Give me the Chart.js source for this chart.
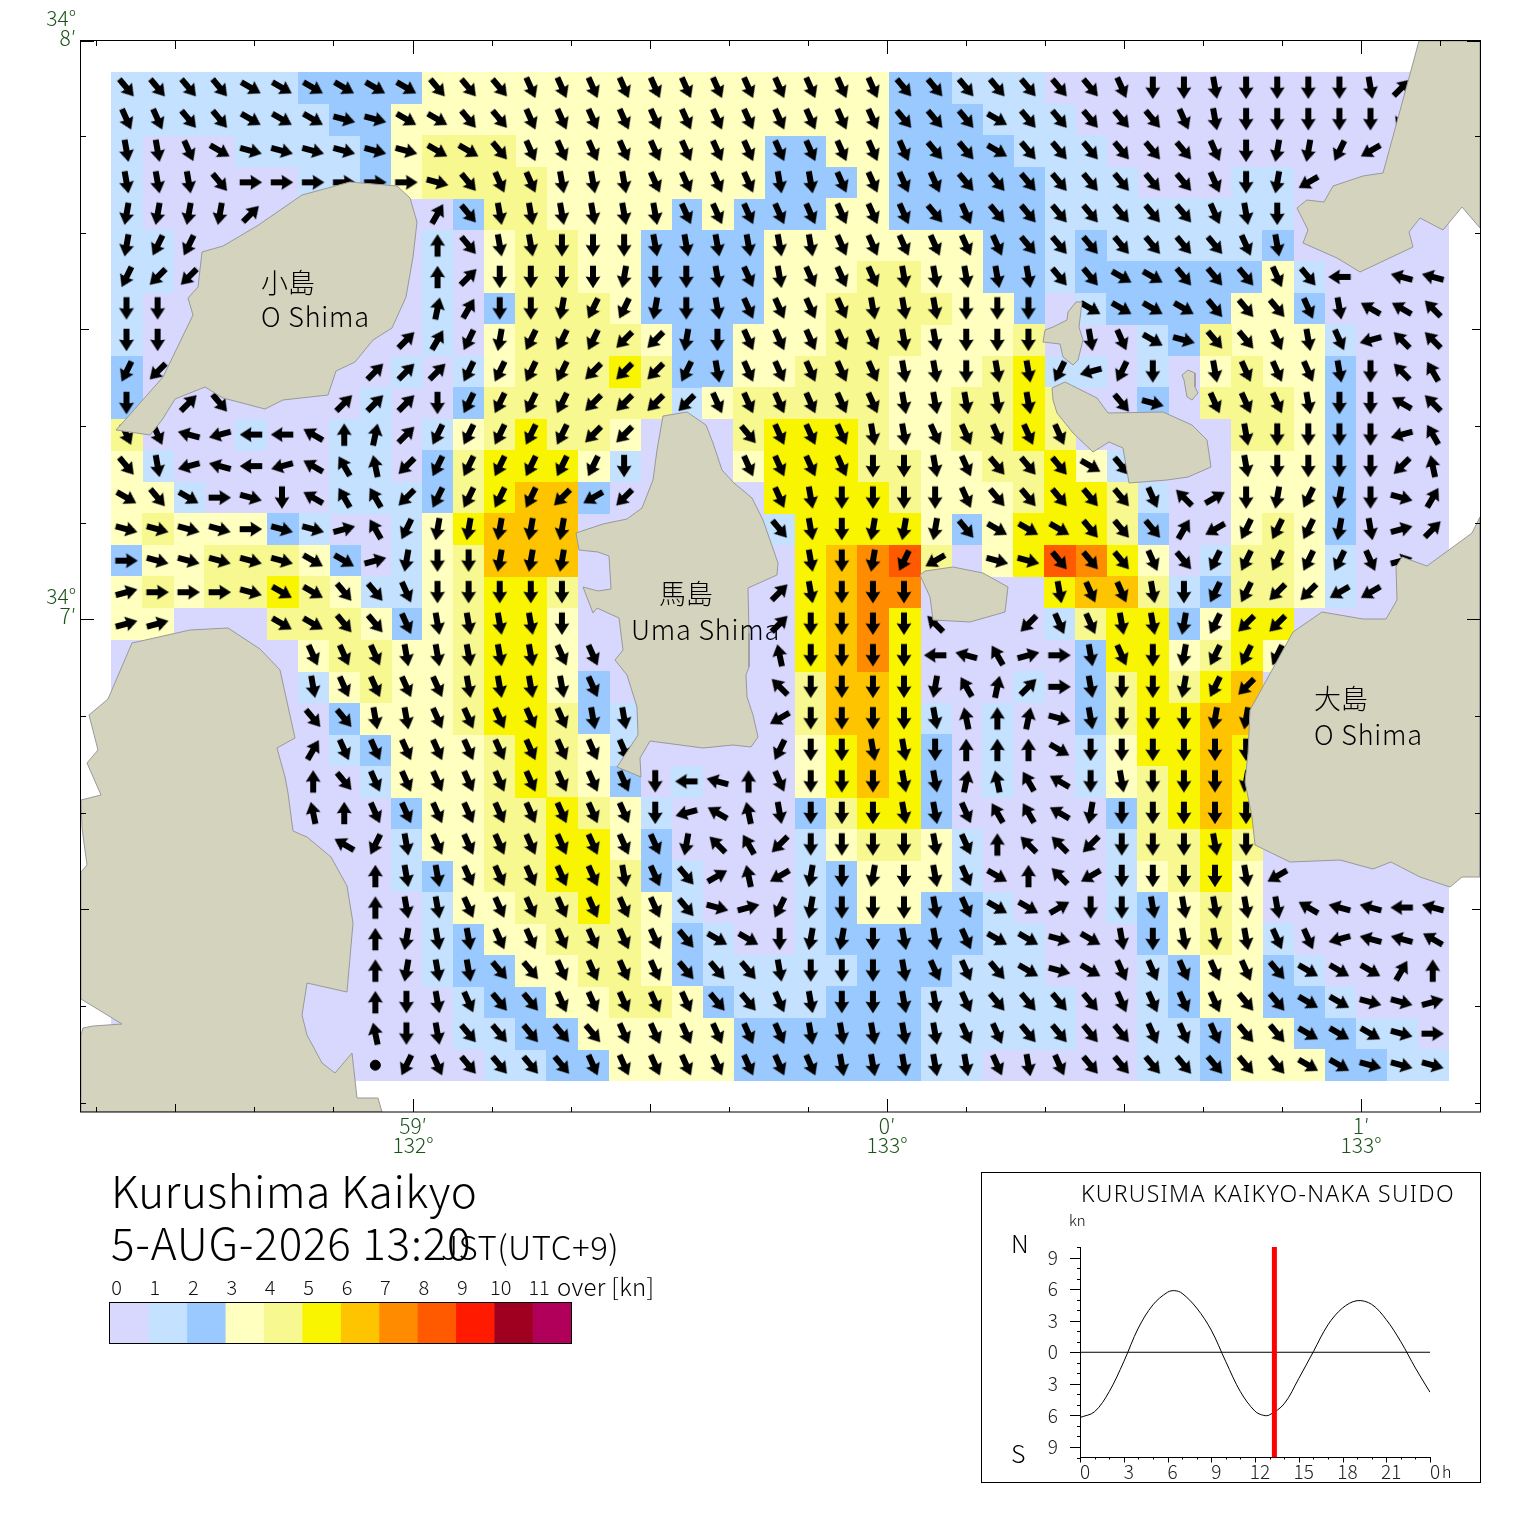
<!DOCTYPE html>
<html>
<head>
<meta charset="utf-8">
<title>Kurushima Kaikyo</title>
<script src="https://cdn.jsdelivr.net/npm/chart.js@4"></script>
<style>
  html, body { margin: 0; padding: 0; background: #fff; }
  canvas { position: absolute; }
</style>
</head>
<body>
<canvas id="mapChart" width="1520" height="1533" style="left:0;top:0"></canvas>
<canvas id="scaleChart" width="480" height="80" style="left:100px;top:1270px"></canvas>
<canvas id="tideChart" width="500" height="317" style="left:981px;top:1172px"></canvas>
<script>
// speed class of each grid cell, one string per row, north to south (spaces only group the digits)
const speedRows = [
  '111111 2222 333333333333333 22 111 0000000000000',
  '1111111 22 3333333333333333 222 111 000000000000',
  '1 000 1111 2 3 444 3 3333333 22 33 2222 111 00000000000',
  '1 00000 11 2 3 4444 3333333 222 3 22222 111 000 11 00000',
  '1 0000000000 2 44 3333 2 3 222 33 22222 11111111 00000',
  '11 00000000 1 0 3 4 4 33 2222 3333333 22 1 2 11111 2 00000',
  '11 00000000 1 0 3 44 33 2222 333 44 33 22 1 222222 3 1 0000',
  '1 000000000 1 0 2 444 3 2222 33 4444 33 2 0 1 2222 33 2 0000',
  '1 000000000 1 0 3 4444 3 22 333 444 333 4 000 1 2 4 333 1 000',
  '2 00000000 1 0 1 3 444 5 4 22 33 444 333 4 5 11 0 1 0 3 4 33 2 000',
  '2 000000 0 1 00 2 44 4444 1 3 44444 33 44 5 4 00 2 0 444 3 2 000',
  '4 000 1 00 11 0 1 3 4 5 44 3 000 4 555 4 33 44 5 4 00000 44 3 2 000',
  '3 1 00000 11 0 2 4 555 3 1 000 3 555 44 33 4 4 5 3 1 000 333 2 000',
  '33 1 0000 111 2 4 5 66 2 0 000 0 5555 4 333 4 55 4 1 00 333 2 000',
  '3 4 333 2 1 00 1 3 5 666 000000 1 5555 3 2 3 555 4 2 00 3 4 3 2 000',
  '2 33 444 3 2 0 1 3 4 666 0000000 5 6 7 8 4 0 3 5 8 7 5 3 0 1 44 3 1 000',
  '3 4 3 44 5 4 3 11 3 4 55 4 0000000 5 6 7 7 0000 5 6 6 4 1 2 44 3 1 000',
  '33 000 444 3 2 3 4 55 3 0000000 5 6 7 5 0000 1 4 55 2 3 55 00000',
  '000000 3 44 33 4 55 3 0 00000 0 5 6 7 5 0000 0 2 55 3 4 5 3 00000',
  '000000 1 3 4 33 4 55 3 2 00000 0 4 6 6 5 000 1 0 2 4 5 4 5 6 000000',
  '0000000 2 3 33 4 55 4 2 1 0000 0 4 6 6 5 1 0 1 0 0 2 4 55 6 6 000000',
  '0000000 1 2 333 4 5 4 3 1 0000 0 3 5 6 5 2 0 1 00 1 3 55 6 5 000000',
  '00000000 1 333 4 5 4 3 2 0 1 000 3 5 6 5 2 0 1 0 0 1 3 4 5 6 5 000000',
  '000000000 2 33 44 5 4 3 1 0000 2 4 55 2 00000 2 4 5 6 5 000000',
  '000000000 1 33 44 55 3 2 0000 1 3 44 3 1 0000 1 4 4 5 4 000000',
  '000000000 1 2 3 44 55 4 2 1 000 1 2 333 1 0000 1 3 4 5 3 000000',
  '0000000000 1 33 4 4 5 4 3 1 000 1 2 33 22 1 000 1 2 3 4 3 000000',
  '0000000000 1 2 33 444 3 2 1 00 1 22222 1 1 000 2 3 4 3 1 00000',
  '0000000000 1 22 3 3 44 3 2 11111 222 111 000 1 2 33 2 1 0000',
  '00000000000 1 22 33 44 3 2 111 222 11111 00 1 2 33 22 1 000',
  '00000000000 11 2 2 33333 222222 11111 00 11 2 33 22 11 0',
  '000000000000 11 22 3333 222222 11 00000 11 2 333 22 11'
];

// flow direction code of each cell (see dirHeadings), '.' no arrow, '*' slack
const dirRows = [
  'jjjjiiiiiijjj kkkkkkkkkkkk jjjj jjj k mm l mmmm l d .',
  'kkjjiiihhiijjk kkkkkkkkkkk jjj i jjj j j k l mmmmm o .',
  'llkihhhhhhiijk kkkkkkkkkkk k jj i jjjjjj k m n n o q ..',
  'llljgggggghjkk lllkkkk llkk kk jjjjjjjj k m n q ....',
  'nnnnd.....cjll llll kkkkkkkk j k jjjjjjj k l m .....',
  'noo.......ajll mmm llllll kkkkkk jjjjjjj k l .....',
  'opp.......admm mmnmml klkkk lllll jjiijjj kj s . tt',
  'mm........bcmm noonmlkkkklllmmm . iiii jjj k l uuv',
  'mm.......dcono oopp nmkkkkkllmmm . lkihjjklk rvv',
  'op......dddooo opppo l kkkkk ll m l l o r o m . l kkk l m v w',
  'm.dj...dddmooo opppp kkkkkk lllll .. j h . kkk l mm u v',
  'kktrssuabdoooo opp ... jkkk ll kkkkk ..... l mmmm r w',
  'jlrtsruwxpoooo oom ... kkkk mm l k jjj i j ... l mmmm p x',
  'ijighmuwwpoooo pqp .... k l mmmm k jjjjj k v e m n o n m h c',
  'hhhhghhfwonnnn n ...... j l m nnn j iii jjj c q ooo n l f d',
  'ghhhhhiifnmmnn n ....... l m n o q . hh jjj k j ooooo k f .',
  'fggghiijjkmmmm m ...... d l mmm .... l kk l m oo pp qq ..',
  'ff...iijjkllll m ...... d mmmm v .. p kk ll n o pp .....',
  '......kkklllll kk ..... x mmmm s t w f g l k m n ooo .....',
  '......lkkkklll lk ..... v mmmm n w b d g l mm n o p ......',
  '......jjllkkkk k ll .... q mmmm l x a b h l mmm nn ......',
  '......ckkkkkkk kkk .... o mm ll m aaa i mmmmmm ......',
  '......ajkkkkkk kkk m s t a k mmm ll b x w u m l mmm n ......',
  '......xakkkkkk kkk m r u x l mmm ll k ww u n mmmmm ......',
  '.......uolkkkk kkkk n v w p mmmm l k a vv p mmm l m ......',
  '........allkkk kk l k j e x q n m n m l k i a v q mmmm l q .....',
  '........allkkk kkkk j h f o n mmm l k ii e mm lllll u tt s t',
  '........anllkk kkkk j ii m nn m ll k ii h i l m lll kk r tt u',
  '........anlljj kkkk jjj l mmm l kk j i h i kkkkk j iii c a',
  '........amlkjj kkkkk jj k l mm ll k jjjj kkkk jj ii hh f',
  '........xmljjj jj kkkkkk lllll kk jjjj kkk jj iii h g',
  '........*okjjj j kkkkkkkk lllll k l k jjjjjjj ii hhh'
];

// heading in degrees for each direction code
const dirHeadings = { a: 0, b: 12, c: 30, d: 45, e: 60, f: 75, g: 90, h: 105, i: 120, j: 140, k: 156, l: 170,
                      m: 180, n: 190, o: 206, p: 225, q: 240, r: 255, s: 270, t: 285, u: 300, v: 315, w: 330, x: 348 };

const speedColors = ['#d8d8ff', '#c4e2ff', '#99c9ff', '#ffffc0', '#f8f890', '#f9f400',
                     '#ffc400', '#ff8c00', '#ff5a00', '#ff1a00', '#a00020', '#b0005a'];
const speedTicks = ['0', '1', '2', '3', '4', '5', '6', '7', '8', '9', '10', '11', ''];

// coast lines in map units (the map axes run 81..1480 and 41..1112)
const oShimaWest = [[350,182],[397,186],[410,198],[417,222],[413,257],[406,297],[392,328],[373,340],[355,362],[336,371],[328,395],[283,400],[265,409],[223,398],[205,387],[175,399],[162,420],[150,435],[116,430],[125,420],[163,377],[193,315],[188,298],[198,287],[202,252],[223,246],[257,226],[302,195],[350,182]];
const umaShima = [[663,416],[687,412],[706,425],[713,443],[722,470],[734,483],[752,498],[763,520],[778,563],[777,575],[748,588],[749,633],[749,667],[746,675],[747,697],[753,715],[758,737],[751,747],[733,745],[703,748],[650,741],[640,758],[641,777],[617,767],[638,735],[637,707],[627,675],[615,660],[623,650],[619,618],[597,608],[593,613],[583,587],[598,591],[611,589],[609,556],[598,552],[579,550],[576,533],[603,524],[627,519],[642,508],[653,480],[657,450],[663,416]];
const islet1 = [[920,575],[925,571],[953,567],[983,573],[1008,587],[1005,612],[970,622],[933,620],[930,597],[920,575]];
const shikokuSide = [[132,643],[190,630],[228,628],[260,649],[280,670],[295,738],[277,748],[285,777],[288,793],[293,831],[307,837],[331,857],[347,886],[353,923],[347,992],[307,983],[302,1015],[307,1035],[322,1063],[335,1073],[352,1053],[357,1098],[378,1098],[382,1112],[81,1112],[81,1035],[83,1028],[93,1026],[122,1024],[81,999],[81,872],[87,865],[82,828],[81,800],[101,795],[87,763],[98,750],[89,715],[108,699],[132,643]];
const northEastLand = [[1419,41],[1383,173],[1363,176],[1333,186],[1324,202],[1307,200],[1297,208],[1308,230],[1303,243],[1337,258],[1360,272],[1413,247],[1409,232],[1420,218],[1443,230],[1462,207],[1480,228],[1480,41],[1419,41]];
const islet2 = [[1076,302],[1082,302],[1079,327],[1083,340],[1078,360],[1073,365],[1063,357],[1060,344],[1043,342],[1045,330],[1053,327],[1067,320],[1068,312],[1076,302]];
const islet3 = [[1188,370],[1195,373],[1195,387],[1198,393],[1192,400],[1187,397],[1184,380],[1182,375],[1188,370]];
const islet4 = [[1052,388],[1065,382],[1097,398],[1108,413],[1163,412],[1192,425],[1207,440],[1211,467],[1188,477],[1167,480],[1129,483],[1123,448],[1109,442],[1093,452],[1073,433],[1057,413],[1053,400],[1052,388]];
const oShimaEast = [[1293,632],[1322,612],[1363,619],[1386,619],[1397,600],[1396,567],[1402,557],[1427,566],[1472,533],[1480,517],[1480,877],[1462,877],[1450,887],[1420,877],[1391,862],[1373,869],[1340,860],[1290,862],[1255,845],[1252,817],[1245,782],[1248,753],[1250,710],[1293,632]];
const coastLines = [oShimaWest, umaShima, islet1, shikokuSide, northEastLand, islet2, islet3, islet4, oShimaEast];

// axis ticks on the map frame
const xFineTicks = [96, 254, 333, 492, 571, 729, 808, 966, 1045, 1203, 1282, 1440];
const xHalfTicks = [175, 650, 1124];
const xMinuteTicks = [413, 887, 1361];
const xMinuteLabels = [['59′', '132°'], ['0′', '133°'], ['1′', '133°']];
const yFineTicks = [136, 233, 426, 523, 716, 813, 1006, 1103];
const yHalfTicks = [329, 909];
const yMinuteTicks = [41, 619];
const yMinuteLabels = [['34°', '8′'], ['34°', '7′']];

// tide curve of the inset, knots by hour, north positive
const tideHours = [0, 1, 2, 3, 4, 5, 6, 6.5, 7, 8, 9, 10, 11, 12, 12.6, 13, 14, 15, 16, 17, 18, 19, 20, 21, 22, 23, 24];
const tideKnots = [-6.2, -5.65, -3.75, -0.9, 2.3, 4.5, 5.7, 5.85, 5.6, 4.2, 2.1, -0.9, -3.75, -5.6, -6.0, -5.95, -4.9, -2.5, 0.05, 2.6, 4.2, 4.9, 4.55, 3.1, 1.0, -1.5, -3.8];
const nowHour = 13.33;

const FONT = "'Noto Sans CJK JP', 'Noto Sans', sans-serif";
const WIDE_FONT = "'Noto Sans', 'Noto Sans CJK JP', sans-serif";
const GREEN = '#1a5218';

function cellImage(color) {
  const c = document.createElement('canvas');
  c.width = 32;
  c.height = 32;
  const g = c.getContext('2d');
  g.fillStyle = color;
  g.fillRect(0, 0, 32, 32);
  return c;
}

function arrowImage() {
  const c = document.createElement('canvas');
  c.width = 26;
  c.height = 26;
  const g = c.getContext('2d');
  g.fillStyle = '#000';
  g.beginPath();
  g.moveTo(13, 1.8);
  g.lineTo(20.5, 13.5);
  g.lineTo(16, 12.8);
  g.lineTo(16, 24.2);
  g.lineTo(10, 24.2);
  g.lineTo(10, 12.8);
  g.lineTo(5.5, 13.5);
  g.closePath();
  g.fill();
  return c;
}

// turn the rows into one point list per speed class plus the arrows
const cellPoints = speedColors.map(() => []);
const arrowPoints = [];
const arrowAngles = [];
const slackPoints = [];
speedRows.forEach((row, r) => {
  const speeds = row.replace(/ /g, '');
  const dirs = dirRows[r].replace(/ /g, '');
  for (let c = 0; c < speeds.length; c++) {
    const left = Math.round(111 + c * 31.1);
    const top = Math.round(72 + r * 31.53);
    cellPoints[+speeds[c]].push({ x: left + 16, y: top + 16 });
    const centre = { x: 111 + (c + 0.5) * 31.1, y: 72 + (r + 0.5) * 31.53 };
    if (dirs[c] === '*') {
      slackPoints.push(centre);
    } else if (dirs[c] !== '.' && dirs[c] !== undefined) {
      arrowPoints.push(centre);
      arrowAngles.push(dirHeadings[dirs[c]]);
    }
  }
});

function tickMarks(ctx, scale, values, from, length) {
  ctx.beginPath();
  values.forEach(v => {
    const p = Math.round(scale.getPixelForValue(v)) + 0.5;
    if (scale.isHorizontal()) {
      ctx.moveTo(p, from);
      ctx.lineTo(p, from + length);
    } else {
      ctx.moveTo(from, p);
      ctx.lineTo(from + length, p);
    }
  });
  ctx.stroke();
}

function text(ctx, str, x, y, font, spacing) {
  ctx.font = font;
  ctx.letterSpacing = (spacing || 0) + 'px';
  ctx.fillStyle = '#000';
  ctx.textAlign = 'left';
  ctx.textBaseline = 'middle';
  ctx.fillText(str, x, y);
  ctx.letterSpacing = '0px';
}

const mapFrame = {
  id: 'mapFrame',
  afterDraw(chart) {
    const { ctx, chartArea: a, scales: { x, y } } = chart;
    ctx.save();
    ctx.strokeStyle = '#000';
    ctx.lineWidth = 1;
    ctx.strokeRect(a.left - 0.5, a.top - 0.5, a.right - a.left + 1, a.bottom - a.top + 0.5);
    [[xFineTicks, 5], [xHalfTicks, 8], [xMinuteTicks, 13]].forEach(([vals, len]) => {
      tickMarks(ctx, x, vals, a.top, len);
      tickMarks(ctx, x, vals, a.bottom, -len);
    });
    [[yFineTicks, 5], [yHalfTicks, 8], [yMinuteTicks, 13]].forEach(([vals, len]) => {
      tickMarks(ctx, y, vals, a.left, len);
      tickMarks(ctx, y, vals, a.right, -len);
    });

    // place names
    const nameFont = '300 27px ' + FONT;
    text(ctx, '小島', 261, 283, nameFont);
    text(ctx, 'O Shima', 261, 317, nameFont, 0.8);
    text(ctx, '馬島', 659, 594, nameFont);
    text(ctx, 'Uma Shima', 631, 630, nameFont, 0.8);
    text(ctx, '大島', 1314, 699, nameFont);
    text(ctx, 'O Shima', 1314, 735, nameFont, 0.8);

    // heading block
    text(ctx, 'Kurushima Kaikyo', 111, 1191, '300 44px ' + FONT, 0.5);
    text(ctx, '5-AUG-2026 13:20', 111, 1243, '300 44px ' + FONT, 0.8);
    text(ctx, 'JST(UTC+9)', 441, 1247, '300 33px ' + FONT, 0.5);
    text(ctx, 'over [kn]', 557, 1287, '300 24px ' + FONT, 0.3);
    ctx.restore();
  }
};

new Chart(document.getElementById('mapChart'), {
  type: 'scatter',
  data: {
    datasets: [
      ...cellPoints.map((pts, i) => ({
        label: 'speed ' + i,
        data: pts,
        pointStyle: cellImage(speedColors[i]),
        order: 30 - i
      })),
      {
        label: 'flow',
        data: arrowPoints,
        pointStyle: arrowImage(),
        pointRotation: arrowAngles,
        order: 10
      },
      {
        label: 'slack',
        data: slackPoints,
        pointStyle: 'circle',
        pointRadius: 5,
        backgroundColor: '#000',
        borderColor: '#000',
        order: 10
      },
      ...coastLines.map((line, i) => ({
        label: 'land ' + i,
        data: line.map(p => ({ x: p[0], y: p[1] })),
        showLine: true,
        fill: 'shape',
        backgroundColor: '#d3d3be',
        borderColor: '#999999',
        borderWidth: 1,
        pointRadius: 0,
        tension: 0,
        order: 1
      }))
    ]
  },
  options: {
    responsive: false,
    animation: false,
    events: [],
    layout: { padding: { left: 0, top: 41, right: 40, bottom: 0 } },
    plugins: { legend: { display: false }, tooltip: { enabled: false } },
    scales: {
      x: {
        type: 'linear',
        min: 81,
        max: 1480,
        afterFit: s => { s.height = 421; },
        afterBuildTicks: s => { s.ticks = xMinuteTicks.map(v => ({ value: v })); },
        grid: { display: false, drawTicks: false },
        border: { display: false },
        ticks: {
          autoSkip: false,
          maxRotation: 0,
          padding: 4,
          color: GREEN,
          font: { family: FONT, size: 21, weight: 300, lineHeight: 0.93 },
          callback: v => xMinuteLabels[xMinuteTicks.indexOf(v)]
        }
      },
      y: {
        type: 'linear',
        reverse: true,
        min: 41,
        max: 1112,
        afterFit: s => { s.width = 81; },
        afterBuildTicks: s => { s.ticks = yMinuteTicks.map(v => ({ value: v })); },
        grid: { display: false, drawTicks: false },
        border: { display: false },
        ticks: {
          autoSkip: false,
          padding: 5,
          labelOffset: -13,
          color: GREEN,
          font: { family: FONT, size: 21, weight: 300, lineHeight: 0.93 },
          callback: v => yMinuteLabels[yMinuteTicks.indexOf(v)]
        }
      }
    }
  },
  plugins: [mapFrame]
});

// colour key
new Chart(document.getElementById('scaleChart'), {
  type: 'bar',
  data: {
    labels: ['kn'],
    datasets: speedColors.map(c => ({
      data: [1],
      backgroundColor: c,
      barPercentage: 1,
      categoryPercentage: 1
    }))
  },
  options: {
    indexAxis: 'y',
    responsive: false,
    animation: false,
    events: [],
    layout: { padding: { left: 10, top: 0, right: 9, bottom: 7 } },
    plugins: { legend: { display: false }, tooltip: { enabled: false } },
    scales: {
      x: {
        position: 'top',
        stacked: true,
        min: 0,
        max: 12,
        afterFit: s => { s.height = 32; },
        grid: { display: false, drawTicks: false },
        border: { display: false },
        ticks: {
          stepSize: 1,
          autoSkip: false,
          maxRotation: 0,
          padding: 3,
          labelOffset: 6.5,
          color: '#111',
          font: { family: FONT, size: 20, weight: 300 },
          callback: (v, i) => speedTicks[i]
        }
      },
      y: { stacked: true, display: false }
    }
  },
  plugins: [{
    id: 'scaleBox',
    afterDraw(chart) {
      const { ctx, chartArea: a } = chart;
      ctx.save();
      ctx.strokeStyle = '#000';
      ctx.lineWidth = 1;
      ctx.strokeRect(Math.round(a.left) - 0.5, a.top + 0.5, a.right - a.left + 1, a.bottom - a.top);
      ctx.restore();
    }
  }]
});

// tide inset
const hourTicks = [];
for (let h = 0; h <= 24; h++) hourTicks.push(h);
const knotTicks = [];
for (let k = -10; k <= 10; k++) knotTicks.push(k);

new Chart(document.getElementById('tideChart'), {
  type: 'scatter',
  data: {
    datasets: [
      {
        label: 'now',
        data: [{ x: nowHour, y: -10 }, { x: nowHour, y: 10 }],
        showLine: true,
        borderColor: '#ff0000',
        borderWidth: 5,
        pointRadius: 0,
        order: 1
      },
      {
        label: 'tide',
        data: tideHours.map((h, i) => ({ x: h, y: tideKnots[i] })),
        showLine: true,
        borderColor: '#000',
        borderWidth: 1,
        pointRadius: 0,
        tension: 0.35,
        order: 2
      },
      {
        label: 'slack water',
        data: [{ x: 0, y: 0 }, { x: 24, y: 0 }],
        showLine: true,
        borderColor: '#000',
        borderWidth: 1,
        pointRadius: 0,
        order: 3
      }
    ]
  },
  options: {
    responsive: false,
    animation: false,
    events: [],
    layout: { padding: { left: 0, top: 75, right: 51, bottom: 0 } },
    plugins: { legend: { display: false }, tooltip: { enabled: false } },
    scales: {
      x: {
        type: 'linear',
        min: 0,
        max: 24,
        afterFit: s => { s.height = 26; },
        afterBuildTicks: s => { s.ticks = hourTicks.filter(h => h % 3 === 0).map(v => ({ value: v })); },
        grid: { display: false, drawTicks: false },
        border: { display: true, color: '#000', width: 1 },
        ticks: {
          autoSkip: false,
          maxRotation: 0,
          padding: 5,
          labelOffset: 5,
          color: '#222',
          font: { family: FONT, size: 19, weight: 300, lineHeight: 1 },
          callback: v => (v === 24 ? '0' : String(v))
        }
      },
      y: {
        type: 'linear',
        min: -10,
        max: 10,
        afterFit: s => { s.width = 99; },
        afterBuildTicks: s => { s.ticks = knotTicks.filter(k => k % 3 === 0).map(v => ({ value: v })); },
        grid: { display: false, drawTicks: false },
        border: { display: true, color: '#000', width: 1 },
        ticks: {
          autoSkip: false,
          padding: 22,
          color: '#222',
          font: { family: FONT, size: 19, weight: 300, lineHeight: 1 },
          callback: v => String(Math.abs(v))
        }
      }
    }
  },
  plugins: [{
    id: 'tideFrame',
    afterDraw(chart) {
      const { ctx, chartArea: a, scales: { x, y }, width } = chart;
      ctx.save();
      ctx.strokeStyle = '#000';
      ctx.lineWidth = 1;
      ctx.strokeRect(0.5, 0.5, width - 1, 310);
      tickMarks(ctx, x, hourTicks.filter(h => h % 3 !== 0), a.bottom, 2);
      tickMarks(ctx, x, hourTicks.filter(h => h % 3 === 0), a.bottom, 5);
      tickMarks(ctx, y, knotTicks.filter(k => k % 3 !== 0), a.left, -3);
      tickMarks(ctx, y, knotTicks.filter(k => k % 3 === 0), a.left, -10);
      text(ctx, 'KURUSIMA KAIKYO-NAKA SUIDO', 100, 23, '300 23px ' + WIDE_FONT, 1.3);
      text(ctx, 'kn', 88, 48, '300 15px ' + FONT);
      text(ctx, 'N', 30, 71, '300 25px ' + FONT);
      text(ctx, 'S', 30, 281, '300 25px ' + FONT);
      text(ctx, 'h', 461, 300, '300 16px ' + FONT);
      ctx.restore();
    }
  }]
});
</script>
</body>
</html>
